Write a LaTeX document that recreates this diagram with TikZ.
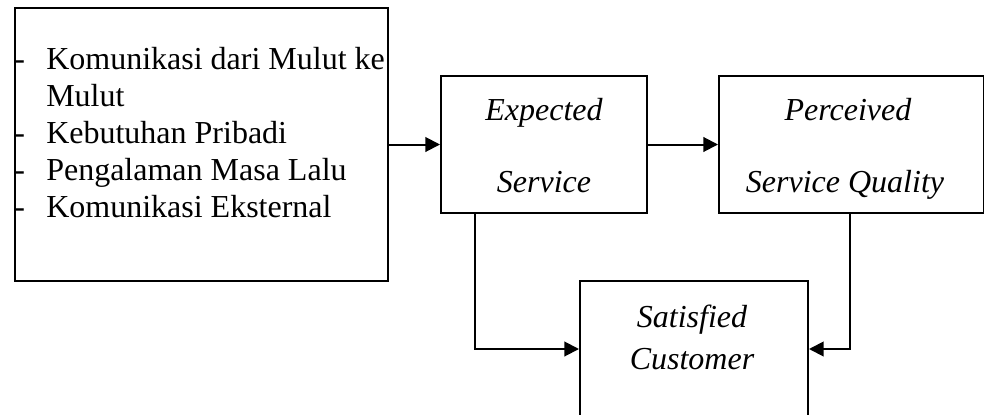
\documentclass[tikz,border=0pt]{standalone}
\usepackage{fontspec}
\setmainfont{Liberation Serif}
\usetikzlibrary{arrows.meta}
\begin{document}
\begin{tikzpicture}[x=0.75pt,y=-0.75pt,
  box/.style={draw=black,line width=1.5pt,rectangle,inner sep=0pt,anchor=north west},
  txt/.style={inner sep=0pt,font=\fontsize{24pt}{27.75pt}\selectfont},
  itx/.style={txt,font=\fontsize{24pt}{27.75pt}\selectfont\itshape,anchor=base},
  arr/.style={line width=1.5pt,-{Triangle[length=11pt,width=11pt]}}]
\useasboundingbox (0,0) rectangle (984,414);
\clip (0,0) rectangle (984,414);
% boxes
\node[box,minimum width=279.75pt,minimum height=204.75pt] (left) at (14,7) {};
\node[box,minimum width=154.5pt,minimum height=102.75pt] (exp) at (440,75) {};
\node[box,minimum width=198.75pt,minimum height=102.75pt] (perc) at (718,75) {};
\node[box,minimum width=171pt,minimum height=102pt] (sat) at (579,280) {};
% left list
\node[txt,anchor=base west] (d1) at (14,69) {-};
\node[txt,anchor=base west] (t1) at (46,69) {Komunikasi dari Mulut ke};
\node[txt,anchor=base west] (t1b) at (46,106) {Mulut};
\node[txt,anchor=base west] (d2) at (14,143) {-};
\node[txt,anchor=base west] (t2) at (46,143) {Kebutuhan Pribadi};
\node[txt,anchor=base west] (d3) at (14,180) {-};
\node[txt,anchor=base west] (t3) at (46,180) {Pengalaman Masa Lalu};
\node[txt,anchor=base west] (d4) at (14,217) {-};
\node[txt,anchor=base west] (t4) at (46,217) {Komunikasi Eksternal};
% italic labels
\node[itx] (e1) at (544,120) {Expected};
\node[itx] (e2) at (544,192) {Service};
\node[itx] (p1) at (848,120) {Perceived};
\node[itx] (p2) at (845,192) {Service Quality};
\node[itx] (s1) at (692,327) {Satisfied};
\node[itx] (s2) at (692,369) {Customer};
% connectors
\draw[arr] (left.east) -- (exp.west);
\draw[arr] (exp.east) -- (perc.west);
\draw[arr] ([xshift=26.25pt]exp.south west) |- (sat.west);
\draw[arr] ([xshift=-1.5pt]perc.south) |- (sat.east);
\end{tikzpicture}
\end{document}
